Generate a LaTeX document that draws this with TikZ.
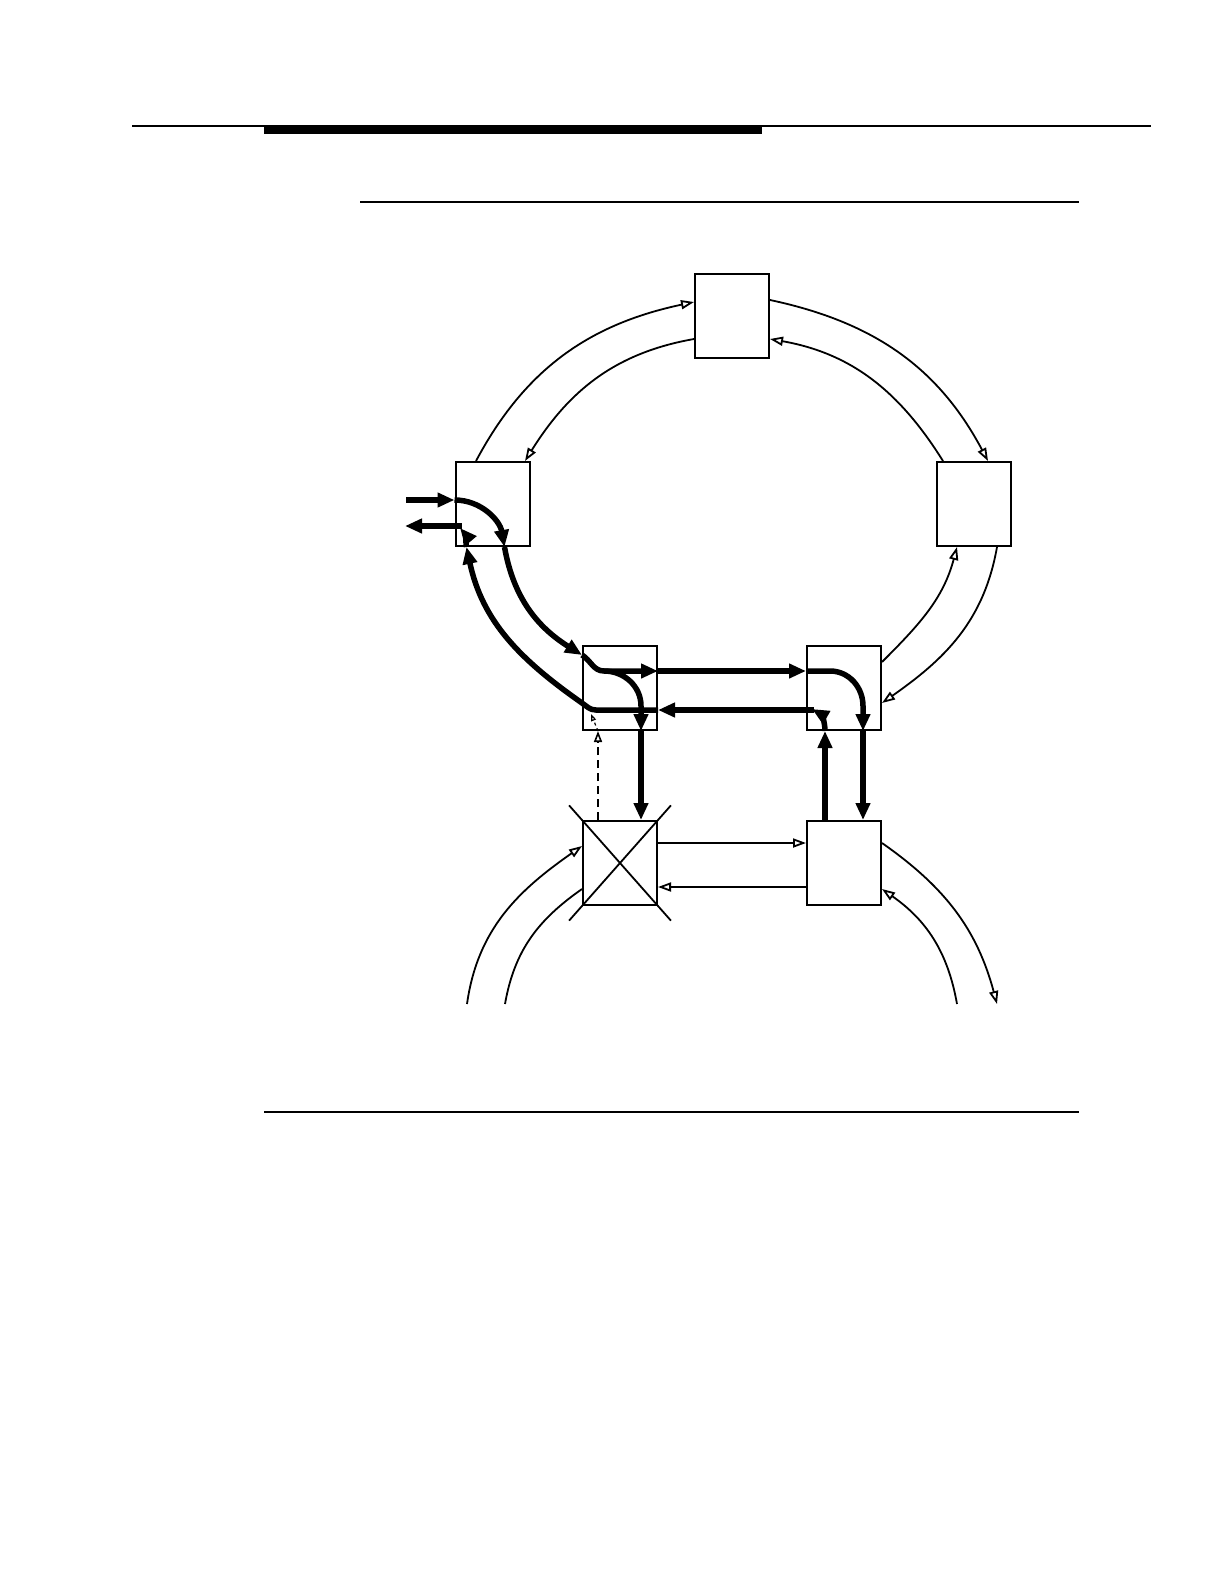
\documentclass[tikz,border=0pt]{standalone}
\usepackage{tikz}
\usetikzlibrary{arrows.meta,positioning,calc}
\tikzstyle{box}=[draw, line width=2pt, minimum width=74pt, minimum height=84pt, inner sep=0pt]
\tikzstyle{wire}=[line width=1.8pt]
\tikzstyle{link}=[line width=1.8pt, -{Triangle[open,length=13pt,width=9pt]}]
\tikzstyle{flow}=[line width=5.5pt, -{Triangle[length=17pt,width=14pt]}]
\tikzstyle{probe}=[line width=1.6pt, dash pattern=on 8pt off 5pt, -{Triangle[open,length=11pt,width=8pt]}]

\begin{document}
\begin{tikzpicture}[x=1pt,y=1pt,node distance=148pt]
    \useasboundingbox (0,0) rectangle (1222,-1582);
    % page rules
    \draw[line width=1.5pt] (132,-126) -- (1151,-126);
    \fill (264,-125) rectangle (762,-134);
    \draw[line width=2.5pt] (360,-202) -- (1079,-202);
    \draw[line width=1.5pt] (264,-1112) -- (1079,-1112);

    % ring nodes
    \node [box] (top) at (732,-316) {};
    \node [box] (left) at (492.5,-504) {};
    \node [box] (right) at (973.5,-504) {};
    \node [box] (ml) at (620,-688) {};
    \node [box] (mr) [right=148pt of ml] {};
    \node [box] (bl) [below=89pt of ml] {};
    \node [box] (br) [right=148pt of bl] {};
    \draw[wire] ($(bl.north west)!-0.17!(bl.south east)$) -- ($(bl.south east)!-0.17!(bl.north west)$);
    \draw[wire] ($(bl.north east)!-0.17!(bl.south west)$) -- ($(bl.south west)!-0.17!(bl.north east)$);

    % loose ends of the lower ring
    \coordinate (e1) at (467,-1004);
    \coordinate (e2) at (505,-1004);
    \coordinate (e3) at (957,-1004);
    \coordinate (e4) at (997,-1004);
    \coordinate (in) at (406,-500);
    \coordinate (out) at (405,-526);

    % thin ring links
    \draw[link] ([xshift=-16.5pt]left.north) to[out=62,in=192] ([yshift=14pt]top.west);
    \draw[link] ([yshift=-23pt]top.west) to[out=190,in=58] ([xshift=32.5pt]left.north);
    \draw[link] ([yshift=16pt]top.east) to[out=-12,in=118] ([xshift=14.5pt]right.north);
    \draw[link] ([xshift=-30.5pt]right.north) to[out=122,in=-10] ([yshift=-23pt]top.east);
    \draw[link] ([yshift=26pt]mr.east) to[out=45,in=-105] ([xshift=-16.5pt]right.south);
    \draw[link] ([xshift=23.5pt]right.south) to[out=-100,in=35] ([yshift=-15pt]mr.east);
    \draw[link] ([yshift=20pt]bl.east) -- ([yshift=20pt]br.west);
    \draw[link] ([yshift=-24pt]br.west) -- ([yshift=-24pt]bl.east);
    \draw[link] (e1) to[out=82,in=215] ([yshift=17pt]bl.west);
    \draw[wire] ([yshift=-26pt]bl.west) to[out=215,in=80] (e2);
    \draw[link] ([yshift=20pt]br.east) to[out=-35,in=105] (e4);
    \draw[link] (e3) to[out=100,in=-35] ([yshift=-26pt]br.east);

    % traffic path
    \draw[flow] (in) -- (left.west |- in);
    \draw[flow] (left.west |- in) to[out=0,in=100] ([xshift=12pt]left.south);
    \draw[flow] ([xshift=12pt]left.south) to[out=-80,in=148] ([yshift=33pt]ml.west);
    \draw[flow] ([yshift=33pt]ml.west) to[out=-32,in=180] (604,-671) -- ([yshift=17pt]ml.east);
    \draw[flow] ([yshift=17pt]ml.east) -- ([yshift=17pt]mr.west);
    \draw[flow] (604,-671) to[out=0,in=90] (641,-706) -- ([xshift=21pt]ml.south);
    \draw[flow] ([xshift=21pt]ml.south) -- ([xshift=21pt]bl.north);
    \draw[flow] ([yshift=17pt]mr.west) -- (830,-671) to[out=0,in=90] (863,-706) -- ([xshift=19pt]mr.south);
    \draw[flow] ([xshift=19pt]mr.south) -- ([xshift=19pt]br.north);
    \draw[flow] ([xshift=-19pt]br.north) -- ([xshift=-19pt]mr.south);
    \draw[flow] ([xshift=-19pt]mr.south) to[out=90,in=-30] (812,-709);
    \draw[flow] (814,-710) -- ([yshift=-22pt]ml.east);
    \draw[flow] ([yshift=-22pt]ml.east) -- (596,-710) to[out=180,in=-35] (582,-703)
        to[out=145,in=-78] ([xshift=-26pt]left.south);
    \draw[flow] ([xshift=-26pt]left.south) to[out=98,in=-50] (460,-528);
    \draw[flow] (462,-526) -- (out);

    % failure probe
    \draw[probe] ([xshift=-22pt]bl.north) -- ([xshift=-22pt]ml.south);
    \draw[line width=1.2pt, dashed, -{Triangle[open,length=7pt,width=5pt]}] ([xshift=-22pt]ml.south) -- (591,-714);
\end{tikzpicture}
\end{document}
